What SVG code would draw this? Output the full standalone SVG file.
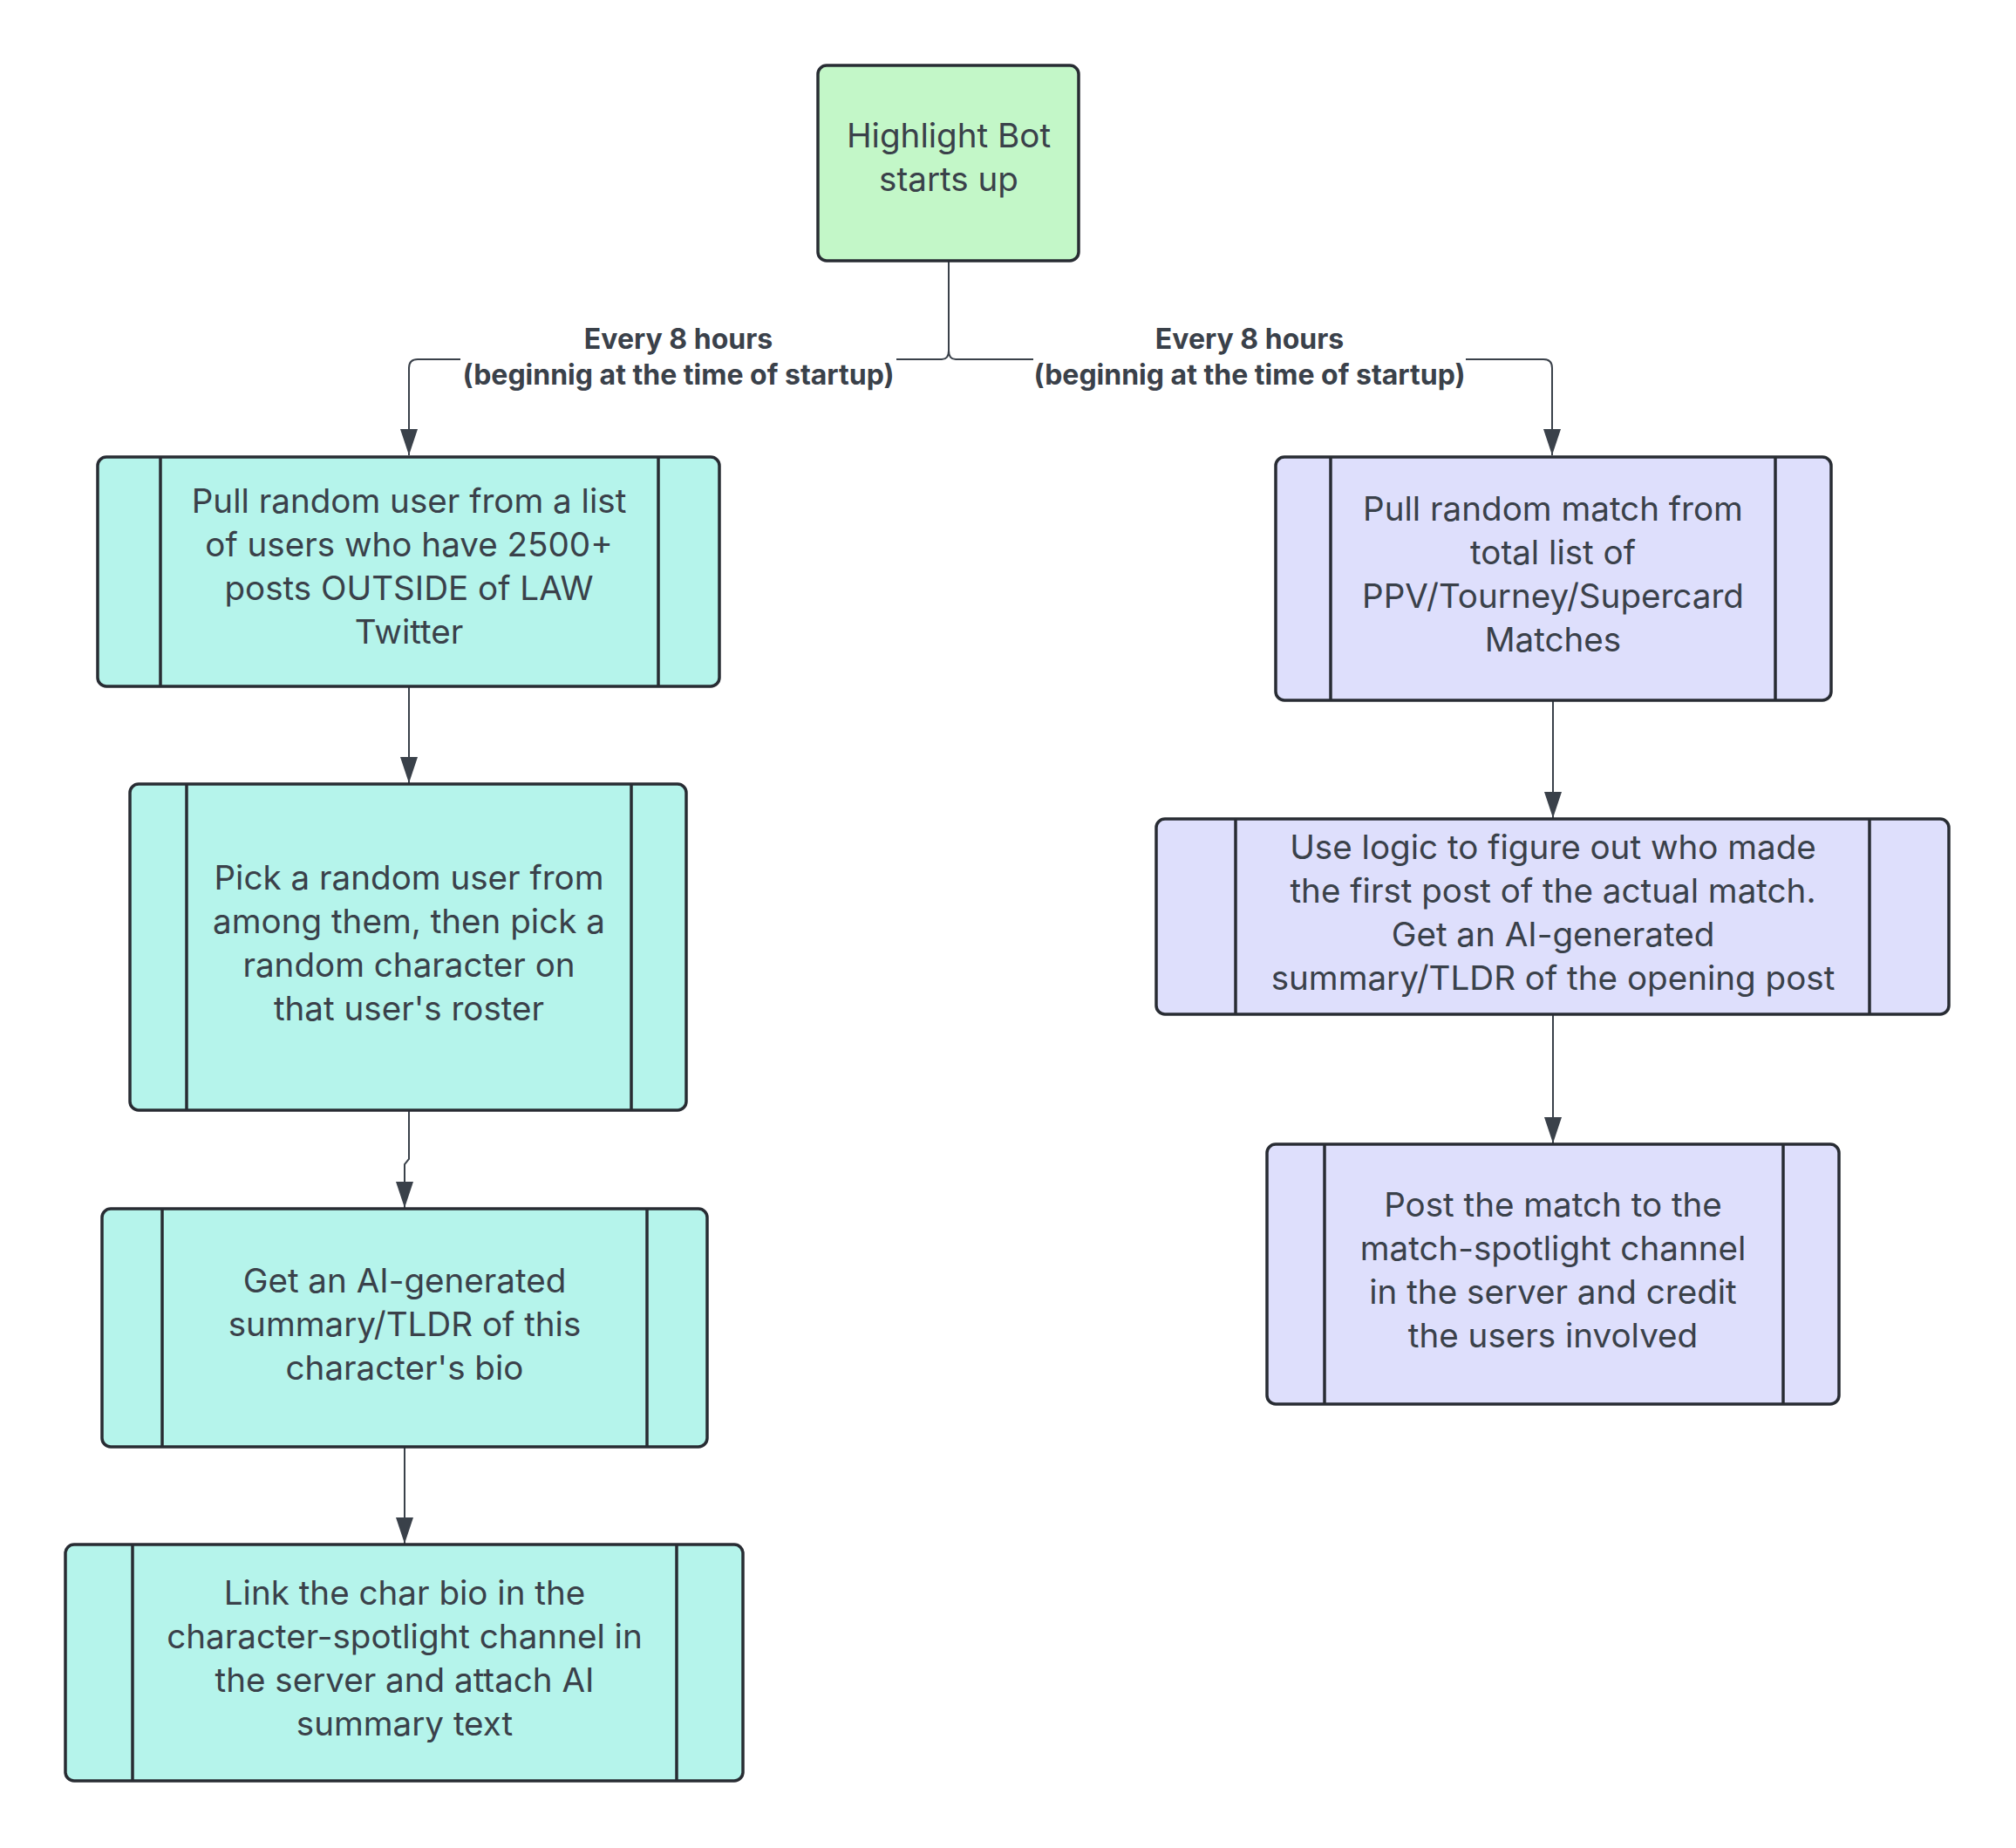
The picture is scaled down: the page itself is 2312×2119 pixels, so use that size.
<svg xmlns="http://www.w3.org/2000/svg" width="2312" height="2119" viewBox="0 0 2312 2119">
<style>
.box{stroke:#282c33;stroke-width:3.5}
.div{stroke:#282c33;stroke-width:3.5;fill:none}
.g{fill:#c3f7c8}
.t{fill:#b5f4eb}
.p{fill:#dedffc}
.txt{font-family:Inter,"Liberation Sans",sans-serif;font-size:38.6px;fill:#3a414a;text-anchor:middle}
.lbl{font-family:Inter,"Liberation Sans",sans-serif;font-size:32px;font-weight:bold;fill:#3a414a;text-anchor:middle}
.c{fill:none;stroke:#3a414a;stroke-width:2}
</style>
<defs>
<marker id="ah" viewBox="0 0 30 20" refX="30" refY="10" markerWidth="30" markerHeight="20" markerUnits="userSpaceOnUse" orient="auto">
<path d="M0,0 L30,10 L0,20 z" fill="#3a414a"/>
</marker>
</defs>
<rect width="2312" height="2119" fill="#ffffff"/>
<g id="connectors">
<path class="c" d="M1088,299 L1088,402 Q1088,412 1080,412 L479,412 Q469,412 469,422 L469,522" marker-end="url(#ah)"/>
<path class="c" d="M1088,402 Q1088,412 1096,412 L1770,412 Q1780,412 1780,422 L1780,522" marker-end="url(#ah)"/>
<path class="c" d="M469,787 L469,898" marker-end="url(#ah)"/>
<path class="c" d="M469,1274 L469,1329 L464,1335 L464,1385" marker-end="url(#ah)"/>
<path class="c" d="M464,1659 L464,1770" marker-end="url(#ah)"/>
<path class="c" d="M1781,803 L1781,938" marker-end="url(#ah)"/>
<path class="c" d="M1781,1164 L1781,1311" marker-end="url(#ah)"/>
<g id="label-left">
<rect x="528" y="366" width="500" height="86" fill="#ffffff"/>
<text class="lbl" x="778" y="400">Every 8 hours</text>
<text class="lbl" x="778" y="441">(beginnig at the time of startup)</text>
</g>
<g id="label-right">
<rect x="1185" y="366" width="496" height="86" fill="#ffffff"/>
<text class="lbl" x="1433" y="400">Every 8 hours</text>
<text class="lbl" x="1433" y="441">(beginnig at the time of startup)</text>
</g>
</g>
<g id="start">
<rect class="box g" x="938" y="75" width="299" height="224" rx="10"/>
<text class="txt" x="1088" y="169">Highlight Bot</text>
<text class="txt" x="1088" y="219">starts up</text>
</g>
<g id="pull-user">
<rect class="box t" x="112" y="524" width="713" height="263" rx="10"/>
<path class="div" d="M184,524 V787 M755,524 V787"/>
<text class="txt" x="469" y="588">Pull random user from a list</text>
<text class="txt" x="469" y="638">of users who have 2500+</text>
<text class="txt" x="469" y="688">posts OUTSIDE of LAW</text>
<text class="txt" x="469" y="738">Twitter</text>
</g>
<g id="pick-user">
<rect class="box t" x="149" y="899" width="638" height="374" rx="10"/>
<path class="div" d="M214,899 V1273 M724,899 V1273"/>
<text class="txt" x="469" y="1020">Pick a random user from</text>
<text class="txt" x="469" y="1070">among them, then pick a</text>
<text class="txt" x="469" y="1120">random character on</text>
<text class="txt" x="469" y="1170">that user's roster</text>
</g>
<g id="ai-summary">
<rect class="box t" x="117" y="1386" width="694" height="273" rx="10"/>
<path class="div" d="M186,1386 V1659 M742,1386 V1659"/>
<text class="txt" x="464" y="1482">Get an AI-generated</text>
<text class="txt" x="464" y="1532">summary/TLDR of this</text>
<text class="txt" x="464" y="1582">character's bio</text>
</g>
<g id="link-bio">
<rect class="box t" x="75" y="1771" width="777" height="271" rx="10"/>
<path class="div" d="M152,1771 V2042 M776,1771 V2042"/>
<text class="txt" x="464" y="1840">Link the char bio in the</text>
<text class="txt" x="464" y="1890">character-spotlight channel in</text>
<text class="txt" x="464" y="1940">the server and attach AI</text>
<text class="txt" x="464" y="1990">summary text</text>
</g>
<g id="pull-match">
<rect class="box p" x="1463" y="524" width="637" height="279" rx="10"/>
<path class="div" d="M1526,524 V803 M2036,524 V803"/>
<text class="txt" x="1781" y="597">Pull random match from</text>
<text class="txt" x="1781" y="647">total list of</text>
<text class="txt" x="1781" y="697">PPV/Tourney/Supercard</text>
<text class="txt" x="1781" y="747">Matches</text>
</g>
<g id="first-post">
<rect class="box p" x="1326" y="939" width="909" height="224" rx="10"/>
<path class="div" d="M1417,939 V1163 M2144,939 V1163"/>
<text class="txt" x="1781" y="985">Use logic to figure out who made</text>
<text class="txt" x="1781" y="1035">the first post of the actual match.</text>
<text class="txt" x="1781" y="1085">Get an AI-generated</text>
<text class="txt" x="1781" y="1135">summary/TLDR of the opening post</text>
</g>
<g id="post-match">
<rect class="box p" x="1453" y="1312" width="656" height="298" rx="10"/>
<path class="div" d="M1519,1312 V1610 M2045,1312 V1610"/>
<text class="txt" x="1781" y="1395">Post the match to the</text>
<text class="txt" x="1781" y="1445">match-spotlight channel</text>
<text class="txt" x="1781" y="1495">in the server and credit</text>
<text class="txt" x="1781" y="1545">the users involved</text>
</g>
</svg>
